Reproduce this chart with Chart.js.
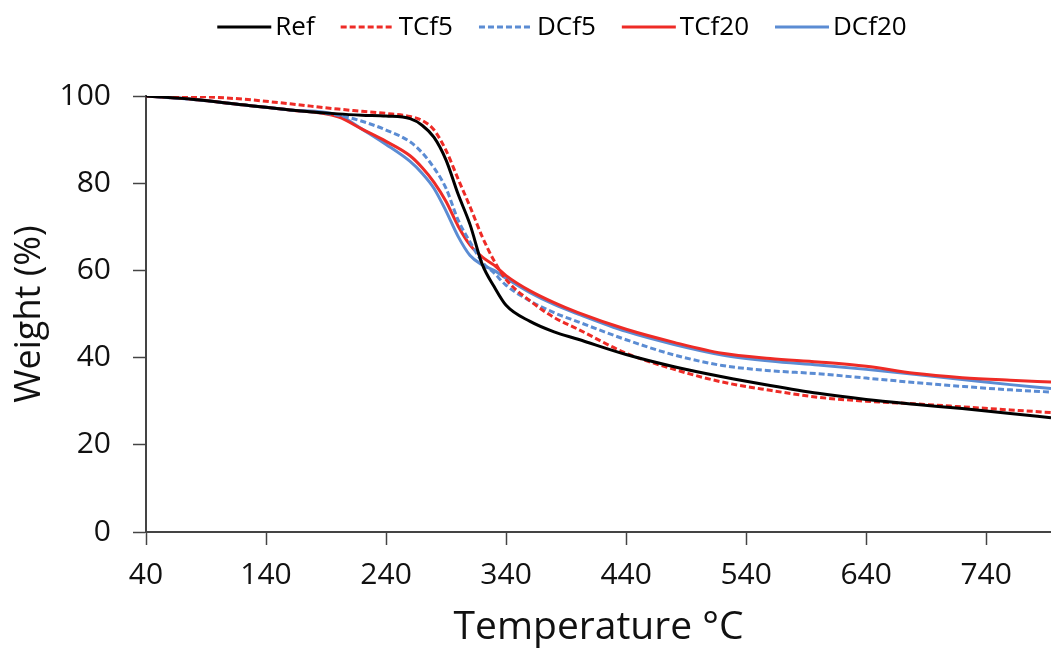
<!DOCTYPE html>
<html lang="en">
<head>
    <meta charset="UTF-8">
    <title>TGA curves</title>
    <script src="https://cdn.jsdelivr.net/npm/chart.js"></script>
    <style>
        * { margin: 0; padding: 0; box-sizing: border-box; }
        body { background: #fff; }
        .wrap { width: 1051px; height: 651px; position: relative; }
    </style>
</head>
<body>

<div class="wrap">
    <canvas id="tga"></canvas>
</div>

<script>
    // temperature (°C) and weight (%)
    const temps = [40, 80, 120, 160, 200, 220, 240, 260, 270, 280, 290, 300, 310, 320, 330, 340, 360, 380, 400, 440, 480, 520, 560, 600, 640, 680, 720, 760, 794];
    const ref   = [100, 99.2, 98.0, 96.8, 95.9, 95.6, 95.4, 94.8, 93.3, 90.5, 85.3, 77.5, 70.5, 61.5, 56.3, 52.0, 48.3, 45.9, 44.2, 40.7, 37.9, 35.6, 33.6, 31.8, 30.4, 29.3, 28.3, 27.2, 26.2];
    const tcf5  = [100, 99.9, 99.3, 98.2, 97.0, 96.5, 96.0, 95.3, 94.4, 92.2, 87.5, 81.0, 74.6, 67.8, 62.2, 57.9, 53.0, 49.2, 46.5, 41.0, 37.3, 34.4, 32.5, 30.9, 30.0, 29.4, 28.7, 28.0, 27.4];
    const dcf5  = [100, 99.2, 98.0, 96.8, 95.6, 94.2, 92.2, 89.5, 87.0, 83.5, 78.8, 71.6, 66.5, 62.0, 59.4, 56.6, 53.0, 50.3, 48.2, 44.1, 40.6, 38.2, 37.0, 36.3, 35.3, 34.3, 33.4, 32.6, 32.1];
    const tcf20 = [100, 99.2, 98.0, 96.8, 95.2, 92.4, 89.6, 86.3, 83.6, 80.2, 75.8, 70.2, 65.8, 63.1, 61.2, 58.8, 55.3, 52.6, 50.3, 46.5, 43.5, 41.0, 39.8, 39.0, 38.0, 36.4, 35.4, 34.8, 34.4];
    const dcf20 = [100, 99.2, 98.0, 96.8, 95.6, 92.4, 88.9, 85.0, 82.3, 78.8, 73.6, 67.8, 63.4, 61.3, 60.0, 58.2, 54.9, 52.2, 50.0, 46.0, 43.0, 40.6, 39.2, 38.3, 37.3, 36.2, 35.0, 33.8, 32.9];
    const xTicks = [40, 140, 240, 340, 440, 540, 640, 740];

    const RED = '#ee2b26';
    const BLUE = '#5b8cd3';
    const FONT = '"Open Sans", sans-serif';

    const pts = ys => temps.map((t, i) => ({ x: t, y: ys[i] }));

    // legend with short line samples, drawn on the canvas above the plot
    const lineLegend = {
        id: 'lineLegend',
        afterDraw(chart) {
            const ctx = chart.ctx;
            const sample = 54, gap = 4, space = 26, y = 27;
            ctx.save();
            ctx.font = '26px ' + FONT;
            ctx.textBaseline = 'middle';
            const widths = chart.data.datasets.map(ds => ctx.measureText(ds.label).width);
            let total = widths.reduce((a, w) => a + sample + gap + w, 0) + space * (widths.length - 1);
            let x = 562 - total / 2;
            chart.data.datasets.forEach((ds, i) => {
                ctx.strokeStyle = ds.borderColor;
                ctx.lineWidth = 3;
                ctx.setLineDash(ds.borderDash || []);
                ctx.beginPath();
                ctx.moveTo(x, y);
                ctx.lineTo(x + sample, y);
                ctx.stroke();
                ctx.fillStyle = '#000';
                ctx.fillText(ds.label, x + sample + gap, y + 1);
                x += sample + gap + widths[i] + space;
            });
            ctx.restore();
        }
    };

    new Chart(document.getElementById('tga'), {
        type: 'line',
        data: {
            datasets: [
                { label: 'Ref',   data: pts(ref),   borderColor: '#000' },
                { label: 'TCf5',  data: pts(tcf5),  borderColor: RED,  borderDash: [6, 3] },
                { label: 'DCf5',  data: pts(dcf5),  borderColor: BLUE, borderDash: [6, 3] },
                { label: 'TCf20', data: pts(tcf20), borderColor: RED },
                { label: 'DCf20', data: pts(dcf20), borderColor: BLUE }
            ].map(d => Object.assign({ borderWidth: 3, pointRadius: 0, cubicInterpolationMode: 'monotone', fill: false }, d))
        },
        options: {
            responsive: true,
            maintainAspectRatio: false,
            animation: false,
            layout: { padding: { top: 96, right: 0, left: 0, bottom: 0 } },
            plugins: { legend: { display: false }, tooltip: { enabled: false } },
            scales: {
                x: {
                    type: 'linear',
                    min: 40,
                    max: 794,
                    afterBuildTicks: s => { s.ticks = xTicks.map(v => ({ value: v })); },
                    afterFit: s => { s.height = 119; },
                    grid: { drawOnChartArea: false, tickLength: 13, color: '#444', tickWidth: 1.5 },
                    border: { color: '#444', width: 2 },
                    ticks: { color: '#111', padding: 12, maxRotation: 0, font: { family: FONT, size: 30 } },
                    title: { display: true, text: 'Temperature °C', color: '#111', padding: 0, font: { family: FONT, size: 39 } }
                },
                y: {
                    min: 0,
                    max: 100,
                    ticks: { stepSize: 20, color: '#111', padding: 22, font: { family: FONT, size: 30 } },
                    afterFit: s => { s.width = 146; },
                    grid: { drawOnChartArea: false, tickLength: 13, color: '#444', tickWidth: 1.5 },
                    border: { color: '#444', width: 2 },
                    title: { display: true, text: 'Weight (%)', color: '#111', padding: { top: 8, bottom: 0 }, font: { family: FONT, size: 36 } }
                }
            }
        },
        plugins: [lineLegend]
    });
</script>

</body>
</html>
